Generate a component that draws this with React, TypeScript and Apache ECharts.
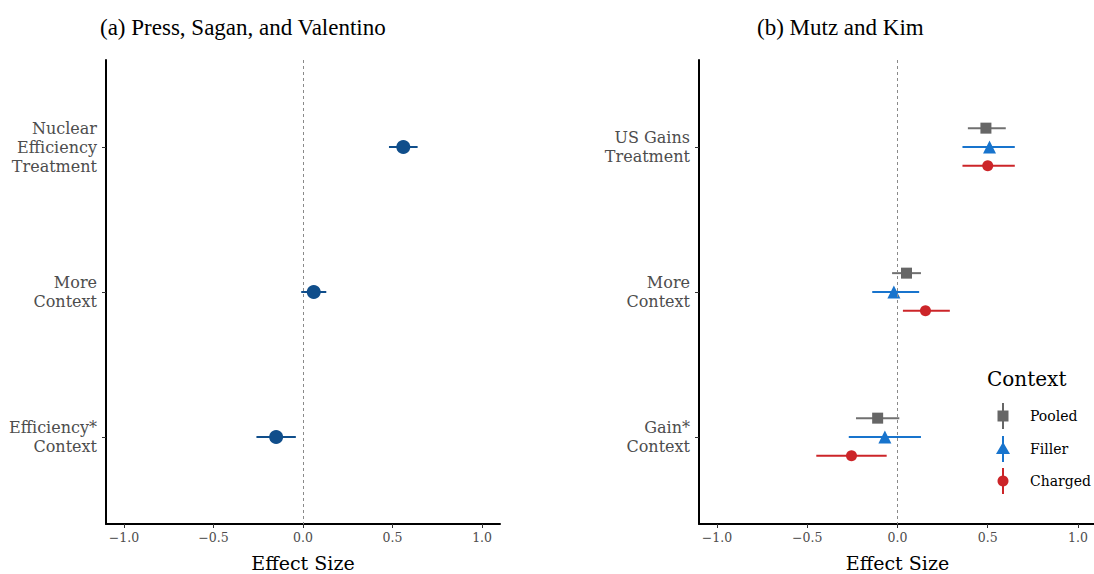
import React, { useEffect, useRef } from "react";
import * as echarts from "echarts";

// ---- Data ----
const leftCategories = ["Nuclear\nEfficiency\nTreatment", "More\nContext", "Efficiency*\nContext"];
const leftEst = [0.56, 0.06, -0.15];
const leftLo = [0.48, -0.01, -0.26];
const leftHi = [0.64, 0.13, -0.04];

const rightCategories = ["US Gains\nTreatment", "More\nContext", "Gain*\nContext"];
const groups = ["Pooled", "Filler", "Charged"];
const pooledEst = [0.49, 0.05, -0.11];
const pooledLo = [0.39, -0.03, -0.23];
const pooledHi = [0.6, 0.13, 0.01];
const fillerEst = [0.51, -0.02, -0.07];
const fillerLo = [0.36, -0.14, -0.27];
const fillerHi = [0.65, 0.12, 0.13];
const chargedEst = [0.5, 0.155, -0.255];
const chargedLo = [0.36, 0.03, -0.45];
const chargedHi = [0.65, 0.29, -0.06];

const xTicks = [-1, -0.5, 0, 0.5, 1];
const yTicks = [1, 2, 3];

const FONT = "'DejaVu Serif', serif";
const TFONT = "'Liberation Serif', serif";
const NAVY = "#104E8B";
const GREY = "#666666";
const BLUE = "#1874CD";
const RED = "#CC2529";

const fmtX = (v: number) => (v < 0 ? "\u2212" : "") + Math.abs(v).toFixed(1);

function xAxisFor(gridIndex: number) {
  return {
    type: "value",
    gridIndex,
    min: -1.1,
    max: 1.1,
    name: "Effect Size",
    nameLocation: "middle",
    nameGap: 29,
    nameTextStyle: { fontFamily: FONT, fontSize: 19, color: "#000" },
    axisLine: { show: true, onZero: false, lineStyle: { color: "#000", width: 2 } },
    axisTick: { show: true, customValues: xTicks, length: 4, lineStyle: { color: "#333" } },
    axisLabel: {
      customValues: xTicks,
      formatter: (v: number) => fmtX(v),
      fontFamily: FONT,
      fontSize: 12.5,
      color: "#4d4d4d",
      margin: 7,
    },
    splitLine: { show: false },
  };
}

function yAxisFor(gridIndex: number, cats: string[]) {
  return {
    type: "value",
    gridIndex,
    min: 0.4,
    max: 3.6,
    inverse: true,
    axisLine: { show: true, onZero: false, lineStyle: { color: "#000", width: 2 } },
    axisTick: { show: true, customValues: yTicks, length: 4, lineStyle: { color: "#333" } },
    axisLabel: {
      customValues: yTicks,
      formatter: (v: number) => cats[Math.round(v) - 1] || "",
      fontFamily: FONT,
      fontSize: 16,
      lineHeight: 19,
      color: "#4d4d4d",
      align: "right",
      margin: 9,
    },
    splitLine: { show: false },
  };
}

function errorSeries(name: string, axisIdx: number, lo: number[], hi: number[], offset: number, color: string) {
  return {
    name,
    type: "custom",
    xAxisIndex: axisIdx,
    yAxisIndex: axisIdx,
    encode: { x: [0, 1], y: 2 },
    data: lo.map((l, i) => [l, hi[i], i + 1 + offset]),
    renderItem: (_p: any, api: any) => {
      const a = api.coord([api.value(0), api.value(2)]);
      const b = api.coord([api.value(1), api.value(2)]);
      return {
        type: "line",
        shape: { x1: a[0], y1: a[1], x2: b[0], y2: b[1] },
        style: { stroke: color, lineWidth: 2 },
      };
    },
    z: 3,
  };
}

function pointSeries(name: string, axisIdx: number, est: number[], offset: number, color: string, symbol: string, size: number) {
  return {
    name,
    type: "scatter",
    xAxisIndex: axisIdx,
    yAxisIndex: axisIdx,
    data: est.map((e, i) => [e, i + 1 + offset]),
    symbol,
    symbolSize: size,
    itemStyle: { color, opacity: 1 },
    z: 4,
  };
}

const zeroLine = {
  silent: true,
  symbol: "none",
  label: { show: false },
  lineStyle: { type: [3, 3], color: "#8a8a8a", width: 1 },
  data: [{ xAxis: 0 }],
};

export default function App() {
  const ref = useRef<HTMLDivElement>(null);
  useEffect(() => {
    document.body.style.margin = "0";
    if (!ref.current) return;
    const chart = echarts.init(ref.current, undefined, { renderer: "svg" });

    const legendItems = [
      { label: groups[0], color: GREY, shape: "rect", y: 416 },
      { label: groups[1], color: BLUE, shape: "triangle", y: 449 },
      { label: groups[2], color: RED, shape: "circle", y: 481 },
    ];
    const lx = 1003;
    const legendGraphics: any[] = [
      {
        type: "text",
        x: 987,
        y: 379,
        style: { text: "Context", fontFamily: FONT, fontSize: 20, fill: "#000", verticalAlign: "middle" },
      },
    ];
    legendItems.forEach((it) => {
      legendGraphics.push({
        type: "line",
        shape: { x1: lx, y1: it.y - 13, x2: lx, y2: it.y + 13 },
        style: { stroke: it.color, lineWidth: 2 },
      });
      if (it.shape === "rect") {
        legendGraphics.push({ type: "rect", shape: { x: lx - 5.5, y: it.y - 5.5, width: 11, height: 11 }, style: { fill: it.color } });
      } else if (it.shape === "triangle") {
        legendGraphics.push({
          type: "polygon",
          shape: { points: [[lx, it.y - 7], [lx - 7, it.y + 5], [lx + 7, it.y + 5]] },
          style: { fill: it.color },
        });
      } else {
        legendGraphics.push({ type: "circle", shape: { cx: lx, cy: it.y, r: 5.5 }, style: { fill: it.color } });
      }
      legendGraphics.push({
        type: "text",
        x: 1030,
        y: it.y,
        style: { text: it.label, fontFamily: FONT, fontSize: 14, fill: "#000", verticalAlign: "middle" },
      });
    });

    const option: any = {
      animation: false,
      backgroundColor: "#fff",
      title: [
        {
          text: "(a) Press, Sagan, and Valentino",
          left: 95,
          top: 11,
          textStyle: { fontFamily: TFONT, fontSize: 23, fontWeight: "normal", color: "#000" },
        },
        {
          text: "(b) Mutz and Kim",
          left: 752,
          top: 11,
          textStyle: { fontFamily: TFONT, fontSize: 23, fontWeight: "normal", color: "#000" },
        },
      ],
      grid: [
        { left: 106, top: 60, width: 394, height: 464, outerBoundsMode: "none", containLabel: false },
        { left: 699, top: 60, width: 397, height: 464, outerBoundsMode: "none", containLabel: false },
      ],
      xAxis: [xAxisFor(0), xAxisFor(1)],
      yAxis: [yAxisFor(0, leftCategories), yAxisFor(1, rightCategories)],
      graphic: legendGraphics,
      series: [
        { ...errorSeries("left-ci", 0, leftLo, leftHi, 0, NAVY), markLine: zeroLine },
        pointSeries("left", 0, leftEst, 0, NAVY, "circle", 14),
        { ...errorSeries("Pooled-ci", 1, pooledLo, pooledHi, -0.13, "#707070"), markLine: zeroLine },
        errorSeries("Filler-ci", 1, fillerLo, fillerHi, 0, BLUE),
        errorSeries("Charged-ci", 1, chargedLo, chargedHi, 0.13, RED),
        pointSeries("Pooled", 1, pooledEst, -0.13, GREY, "rect", 11),
        pointSeries("Filler", 1, fillerEst, 0, BLUE, "triangle", 13),
        pointSeries("Charged", 1, chargedEst, 0.13, RED, "circle", 11),
      ],
    };
    chart.setOption(option);
    return () => chart.dispose();
  }, []);
  return <div ref={ref} style={{ width: 1094, height: 574 }} />;
}
